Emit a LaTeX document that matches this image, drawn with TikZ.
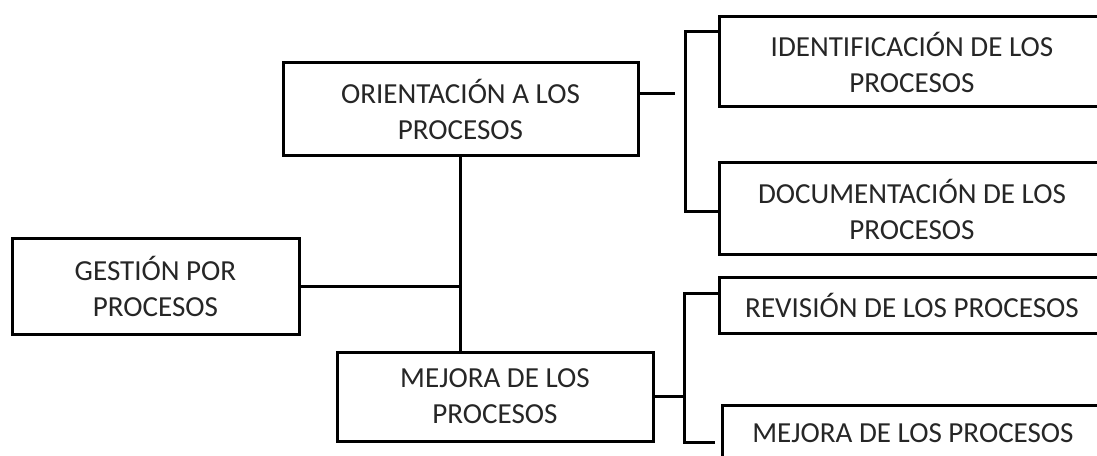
\documentclass[tikz,border=0pt]{standalone}
\usepackage{fontspec}
\setmainfont{Carlito}
\begin{document}
\begin{tikzpicture}[x=0.75pt,y=-0.75pt,
  box/.style 2 args={draw=black, line width=2.25pt, minimum width={#1*0.75pt}, minimum height={#2*0.75pt}, inner sep=0pt, align=center, text=black!85, font=\fontsize{21.8}{27}\selectfont},
  conn/.style={draw=black, line width=2.25pt}]
\useasboundingbox (0,0) rectangle (1097,456);
\clip (0,0) rectangle (1097,456);
% main boxes
\node[box={355}{93}] (ori) at (460.5,109.5) {ORIENTACIÓN A LOS\\PROCESOS};
\node[box={287}{95}] (ges) at (155.5,286.5) {GESTIÓN POR\\PROCESOS};
\node[box={316}{89}] (mej) at (495,396.5) {MEJORA DE LOS\\PROCESOS};
% right boxes (cut by the page edge)
\node[box={386}{90}] (ide) at (912,62) {IDENTIFICACIÓN DE LOS\\PROCESOS};
\node[box={386}{92}] (doc) at (912,209) {DOCUMENTACIÓN DE LOS\\PROCESOS};
\node[box={386}{55}] (rev) at (912,305.5) {REVISIÓN DE LOS PROCESOS};
\node[box={382}{56}] (mej2) at (913,433) {MEJORA DE LOS PROCESOS};
% bracket coordinates
\coordinate (oe) at (675,94);
\coordinate (b1t) at (685,32);
\coordinate (b1b) at (685,212);
\coordinate (b2t) at (684,294);
\coordinate (b2b) at (684,442);
\coordinate (b2e) at (715,442);
% connectors
\draw[conn] (ori.south) -- (ori.south |- mej.north);
\draw[conn] (ges.east) -- (ges.east -| ori.south);
\draw[conn] (ori.east |- oe) -- (oe);
\draw[conn] (ide.west |- b1t) -- (b1t) -- (b1b) -- (b1b -| doc.west);
\draw[conn] (mej.east) -- (mej.east -| b2t);
\draw[conn] (rev.west |- b2t) -- (b2t) -- (b2b) -- (b2e);
\end{tikzpicture}
\end{document}
